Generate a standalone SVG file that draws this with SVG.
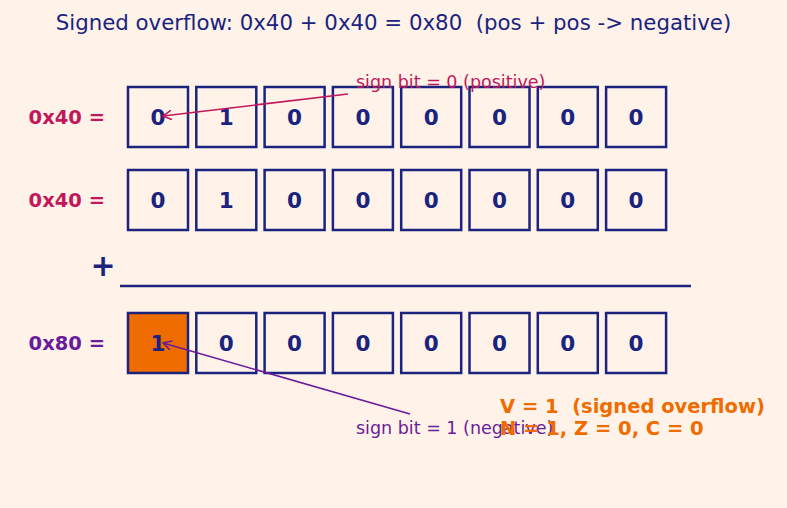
<svg xmlns="http://www.w3.org/2000/svg" width="787" height="508" viewBox="0 0 787 508">
<defs>
<style>
text{white-space:pre}
.bg{fill:#fff3e9}
.box{fill:#fff3e9;stroke:#1a237e;stroke-width:2.5}
.hi{fill:#ef6c00}
.bit{font-family:"DejaVu Sans",sans-serif;font-weight:bold;font-size:21.5px;fill:#1a237e;text-anchor:middle}
.lbl{font-family:"DejaVu Sans",sans-serif;font-weight:bold;font-size:19.5px;text-anchor:end}
.ann{font-family:"DejaVu Sans",sans-serif;font-size:17.5px}
.flag{font-family:"DejaVu Sans",sans-serif;font-weight:bold;font-size:19.5px;fill:#ef6c00}
</style>
<marker id="ar1" viewBox="0 0 10 10" refX="9" refY="5" markerWidth="10" markerHeight="10" markerUnits="userSpaceOnUse" orient="auto"><path d="M0,0 L9,5 L0,10" fill="none" stroke="#c2185b" stroke-width="1.6"/></marker>
<marker id="ar2" viewBox="0 0 10 10" refX="9" refY="5" markerWidth="10" markerHeight="10" markerUnits="userSpaceOnUse" orient="auto"><path d="M0,0 L9,5 L0,10" fill="none" stroke="#6a1b9a" stroke-width="1.6"/></marker>
</defs>
<rect class="bg" x="0" y="0" width="787" height="508"/>
<text x="393.5" y="30" font-family="DejaVu Sans, sans-serif" font-size="21.3" fill="#1a237e" text-anchor="middle">Signed overflow: 0x40 + 0x40 = 0x80  (pos + pos -&gt; negative)</text>

<g id="row1">
<text class="lbl" x="105" y="124" fill="#c2185b">0x40 =</text>
<rect class="box" x="128" y="87" width="60" height="60"/><text class="bit" x="158" y="125">0</text>
<rect class="box" x="196.3" y="87" width="60" height="60"/><text class="bit" x="226.3" y="125">1</text>
<rect class="box" x="264.6" y="87" width="60" height="60"/><text class="bit" x="294.6" y="125">0</text>
<rect class="box" x="332.9" y="87" width="60" height="60"/><text class="bit" x="362.9" y="125">0</text>
<rect class="box" x="401.2" y="87" width="60" height="60"/><text class="bit" x="431.2" y="125">0</text>
<rect class="box" x="469.5" y="87" width="60" height="60"/><text class="bit" x="499.5" y="125">0</text>
<rect class="box" x="537.8" y="87" width="60" height="60"/><text class="bit" x="567.8" y="125">0</text>
<rect class="box" x="606.1" y="87" width="60" height="60"/><text class="bit" x="636.1" y="125">0</text>
</g>

<g id="row2">
<text class="lbl" x="105" y="207" fill="#c2185b">0x40 =</text>
<rect class="box" x="128" y="170" width="60" height="60"/><text class="bit" x="158" y="208">0</text>
<rect class="box" x="196.3" y="170" width="60" height="60"/><text class="bit" x="226.3" y="208">1</text>
<rect class="box" x="264.6" y="170" width="60" height="60"/><text class="bit" x="294.6" y="208">0</text>
<rect class="box" x="332.9" y="170" width="60" height="60"/><text class="bit" x="362.9" y="208">0</text>
<rect class="box" x="401.2" y="170" width="60" height="60"/><text class="bit" x="431.2" y="208">0</text>
<rect class="box" x="469.5" y="170" width="60" height="60"/><text class="bit" x="499.5" y="208">0</text>
<rect class="box" x="537.8" y="170" width="60" height="60"/><text class="bit" x="567.8" y="208">0</text>
<rect class="box" x="606.1" y="170" width="60" height="60"/><text class="bit" x="636.1" y="208">0</text>
</g>

<g id="plus">
<text x="103" y="276" font-family="DejaVu Sans, sans-serif" font-weight="bold" font-size="30" fill="#1a237e" text-anchor="middle">+</text>
<line x1="120" y1="286" x2="691" y2="286" stroke="#1a237e" stroke-width="2.5"/>
</g>

<g id="row3">
<text class="lbl" x="105" y="350" fill="#6a1b9a">0x80 =</text>
<rect class="box hi" x="128" y="313" width="60" height="60"/><text class="bit" x="158" y="351">1</text>
<rect class="box" x="196.3" y="313" width="60" height="60"/><text class="bit" x="226.3" y="351">0</text>
<rect class="box" x="264.6" y="313" width="60" height="60"/><text class="bit" x="294.6" y="351">0</text>
<rect class="box" x="332.9" y="313" width="60" height="60"/><text class="bit" x="362.9" y="351">0</text>
<rect class="box" x="401.2" y="313" width="60" height="60"/><text class="bit" x="431.2" y="351">0</text>
<rect class="box" x="469.5" y="313" width="60" height="60"/><text class="bit" x="499.5" y="351">0</text>
<rect class="box" x="537.8" y="313" width="60" height="60"/><text class="bit" x="567.8" y="351">0</text>
<rect class="box" x="606.1" y="313" width="60" height="60"/><text class="bit" x="636.1" y="351">0</text>
</g>

<g id="connectors">
<line x1="348" y1="94" x2="163" y2="116" stroke="#c2185b" stroke-width="1.6" marker-end="url(#ar1)"/>
<line x1="410" y1="414" x2="163" y2="343" stroke="#6a1b9a" stroke-width="1.6" marker-end="url(#ar2)"/>
</g>

<g id="annotations">
<text class="ann" x="356" y="88" fill="#c2185b">sign bit = 0 (positive)</text>
<text class="ann" x="356" y="434" fill="#6a1b9a">sign bit = 1 (negative)</text>
<text class="flag" x="500" y="413">V = 1  (signed overflow)</text>
<text class="flag" x="500" y="435">N = 1, Z = 0, C = 0</text>
</g>
</svg>
